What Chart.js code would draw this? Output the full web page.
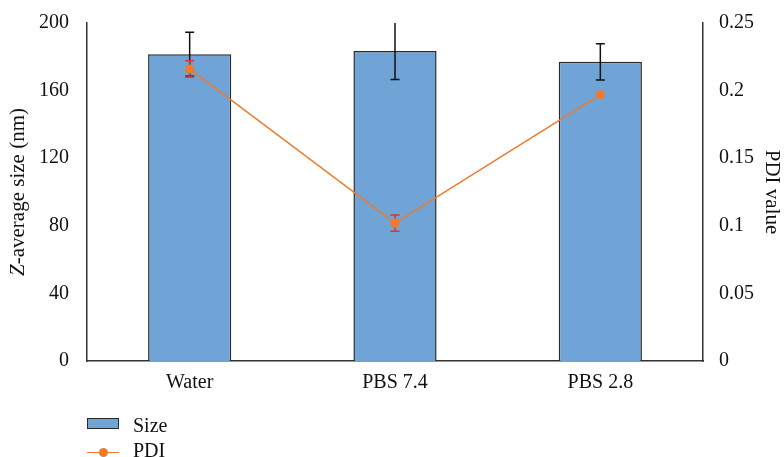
<!DOCTYPE html>
<html>
<head>
<meta charset="utf-8">
<script src="https://cdn.jsdelivr.net/npm/chart.js@4/dist/chart.umd.min.js"></script>
<style>
  html, body { margin: 0; padding: 0; background: #fff; overflow: hidden; }
  #wrap { position: relative; width: 784px; height: 457px; }
  canvas { position: absolute; left: 0; top: 0; }
  .lg { position: absolute; font-family: "Liberation Serif", serif; font-size: 20px; color: #111; line-height: 20px; }
  .sw-bar { position: absolute; width: 30px; height: 9px; background: #70A3D6; border: 1.5px solid #2b2b2b; }
  .sw-line { position: absolute; width: 32px; height: 1.5px; background: #F07A2A; }
  .sw-dot { position: absolute; width: 9px; height: 9px; border-radius: 50%; background: #F07A2A; }
</style>
</head>
<body>
<div id="wrap">
  <canvas id="c" width="784" height="457"></canvas>
  <div id="legend"></div>
</div>
<script>
const categories = ['Water', 'PBS 7.4', 'PBS 2.8'];
const sizeValues = [181.5, 183.5, 177];
const sizeErrors = [13, 17, 10.7];
const pdiValues = [0.216, 0.102, 0.197];
const pdiErrors = [0.006, 0.006, 0];
const sizeTicks = [0, 40, 80, 120, 160, 200];
const pdiTicks = [0, 0.05, 0.1, 0.15, 0.2, 0.25];

const FONT = '"Liberation Serif", serif';
const INK = '#111';
const TICK_SIZE = 20;
const TITLE_SIZE = 21;

function drawErr(chart, values, errs, scaleId, color) {
  const ctx = chart.ctx, ys = chart.scales[scaleId], xs = chart.scales.x, a = chart.chartArea;
  ctx.save();
  ctx.beginPath();
  ctx.rect(a.left, a.top, a.right - a.left, a.bottom - a.top);
  ctx.clip();
  ctx.strokeStyle = color;
  ctx.lineWidth = 1.5;
  values.forEach((v, i) => {
    const e = errs[i];
    if (!e) return;
    const x = xs.getPixelForValue(i);
    const yT = ys.getPixelForValue(v + e), yB = ys.getPixelForValue(v - e);
    ctx.beginPath();
    ctx.moveTo(x, yT); ctx.lineTo(x, yB);
    ctx.moveTo(x - 4.5, yT); ctx.lineTo(x + 4.5, yT);
    ctx.moveTo(x - 4.5, yB); ctx.lineTo(x + 4.5, yB);
    ctx.stroke();
  });
  ctx.restore();
}

const errorPlugin = {
  id: 'errs',
  afterDatasetDraw(chart, args) {
    if (args.index === 0) drawErr(chart, sizeValues, sizeErrors, 'y', '#111');
  },
  beforeDatasetDraw(chart, args) {
    if (args.index === 1) drawErr(chart, pdiValues, pdiErrors, 'y1', '#D9372B');
  },
  afterDraw(chart) {
    const ctx = chart.ctx, a = chart.chartArea;
    ctx.save();
    ctx.translate(18, (a.top + a.bottom) / 2);
    ctx.rotate(-Math.PI / 2);
    ctx.fillStyle = INK;
    ctx.textBaseline = 'middle';
    const z = 'Z';
    const rest = '-average size (nm)';
    ctx.font = 'italic ' + TITLE_SIZE + 'px ' + FONT;
    const wz = ctx.measureText(z).width;
    ctx.font = TITLE_SIZE + 'px ' + FONT;
    const wr = ctx.measureText(rest).width;
    const start = -(wz + wr) / 2;
    ctx.textAlign = 'left';
    ctx.font = 'italic ' + TITLE_SIZE + 'px ' + FONT;
    ctx.fillText(z, start, 0);
    ctx.font = TITLE_SIZE + 'px ' + FONT;
    ctx.fillText(rest, start + wz, 0);
    ctx.restore();
  }
};

const chart = new Chart(document.getElementById('c'), {
  type: 'bar',
  data: {
    labels: categories,
    datasets: [
      {
        label: 'Size', data: sizeValues, yAxisID: 'y', order: 2,
        backgroundColor: '#70A3D6', borderColor: '#2b2b2b', borderWidth: 1.5,
        categoryPercentage: 1, barPercentage: 0.405
      },
      {
        type: 'line', label: 'PDI', data: pdiValues, yAxisID: 'y1', order: 1,
        borderColor: '#F07A2A', backgroundColor: '#F07A2A', borderWidth: 1.5,
        pointRadius: 4.5, pointBorderWidth: 0, tension: 0
      }
    ]
  },
  options: {
    responsive: false, animation: false, devicePixelRatio: 1,
    layout: { padding: { top: 23, bottom: 56, left: 0, right: 0 } },
    plugins: { legend: { display: false }, tooltip: { enabled: false } },
    scales: {
      x: {
        grid: { display: false, drawTicks: false },
        border: { display: true, color: '#333', width: 1.5 },
        ticks: { color: INK, font: { family: FONT, size: TICK_SIZE }, padding: 10 },
        afterFit(s) { s.height = 40; }
      },
      y: {
        position: 'left', min: 0, max: 200,
        afterBuildTicks(s) { s.ticks = sizeTicks.map(v => ({ value: v })); },
        grid: { display: false, drawOnChartArea: false, drawTicks: true, tickLength: 8, tickColor: '#333', tickWidth: 1.5 },
        border: { display: true, color: '#333', width: 1.5 },
        ticks: { color: INK, font: { family: FONT, size: TICK_SIZE }, padding: 10 },
        afterFit(s) { s.width = 87; }
      },
      y1: {
        position: 'right', min: 0, max: 0.25,
        afterBuildTicks(s) { s.ticks = pdiTicks.map(v => ({ value: v })); },
        grid: { display: false, drawOnChartArea: false, drawTicks: true, tickLength: 8, tickColor: '#333', tickWidth: 1.5 },
        border: { display: true, color: '#333', width: 1.5 },
        ticks: { color: INK, font: { family: FONT, size: TICK_SIZE }, padding: 8,
          callback: v => String(v) },
        title: { display: true, text: 'PDI value', color: INK, font: { family: FONT, size: TITLE_SIZE }, padding: { top: 0, bottom: 0 } },
        afterFit(s) { s.width = 81; }
      }
    }
  },
  plugins: [errorPlugin]
});

// HTML legend built from datasets
const lg = document.getElementById('legend');
chart.data.datasets.forEach((ds, i) => {
  const top = i === 0 ? 415 : 440;
  if (ds.type === 'line') {
    const l = document.createElement('div'); l.className = 'sw-line';
    l.style.left = '87px'; l.style.top = (top + 11.5) + 'px'; lg.appendChild(l);
    const d = document.createElement('div'); d.className = 'sw-dot';
    d.style.left = '98.5px'; d.style.top = (top + 7.5) + 'px'; lg.appendChild(d);
  } else {
    const b = document.createElement('div'); b.className = 'sw-bar';
    b.style.left = '87px'; b.style.top = (top + 3) + 'px'; lg.appendChild(b);
  }
  const t = document.createElement('div'); t.className = 'lg';
  t.style.left = '133px'; t.style.top = top + 'px'; t.textContent = ds.label;
  lg.appendChild(t);
});
</script>
</body>
</html>
